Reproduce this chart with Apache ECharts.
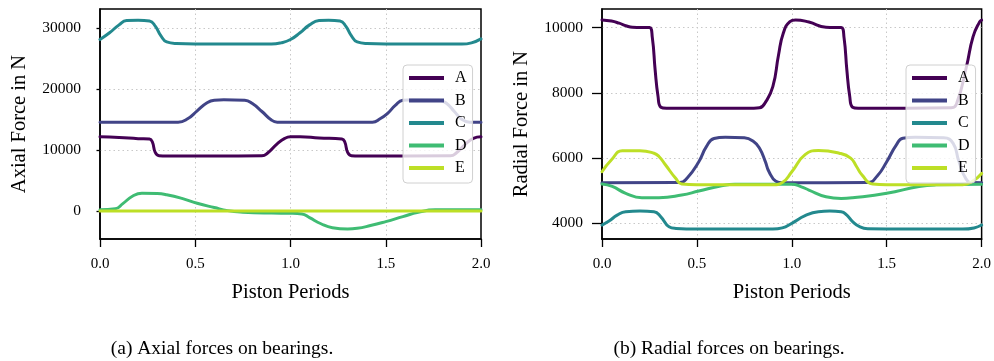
<!DOCTYPE html>
<html><head><meta charset="utf-8">
<script src="https://cdn.jsdelivr.net/npm/echarts@6/dist/echarts.min.js"></script>
<style>html,body{margin:0;padding:0;background:#fff}#c{width:994px;height:361px}</style>
</head><body><div id="c"></div>
<script>
const seriesNames = ['A', 'B', 'C', 'D', 'E'];
const xTicks = [0, 0.5, 1, 1.5, 2];
const axialTicks = [0, 10000, 20000, 30000];
const radialTicks = [4000, 6000, 8000, 10000];
const captions = ['(a) Axial forces on bearings.', '(b) Radial forces on bearings.'];

// Axial forces [piston period, N]
const axialA = [[0,12160],[0.1,12050],[0.2,11850],[0.26,11780],[0.275,11300],[0.29,9600],[0.31,9050],[0.35,9000],[0.6,9000],[0.85,9050],[0.88,9500],[0.93,11000],[0.97,11900],[1.0,12150],[1.05,12150],[1.15,11950],[1.27,11780],[1.285,11300],[1.30,9600],[1.32,9050],[1.36,9000],[1.84,9050],[1.87,9500],[1.92,11000],[1.96,11900],[2.0,12150]];
const axialB = [[0,14520],[0.41,14550],[0.46,15100],[0.51,16400],[0.56,17700],[0.6,18150],[0.65,18220],[0.76,18150],[0.8,17600],[0.85,16300],[0.9,14900],[0.93,14550],[1.0,14520],[1.43,14550],[1.47,15100],[1.51,16000],[1.55,17300],[1.59,18150],[1.64,18220],[1.78,18150],[1.82,17600],[1.86,16300],[1.9,15000],[1.94,14550],[2.0,14520]];
const axialC = [[0,28100],[0.05,29200],[0.1,30500],[0.14,31200],[0.2,31260],[0.26,31150],[0.29,30300],[0.32,28700],[0.35,27700],[0.4,27450],[0.6,27350],[0.9,27350],[0.95,27550],[1.0,28100],[1.05,29200],[1.1,30500],[1.15,31200],[1.2,31260],[1.26,31150],[1.29,30300],[1.32,28700],[1.35,27700],[1.4,27450],[1.6,27350],[1.9,27350],[1.95,27550],[2.0,28200]];
const axialD = [[0,200],[0.08,350],[0.12,1200],[0.17,2400],[0.22,2900],[0.3,2850],[0.35,2650],[0.43,2050],[0.51,1250],[0.6,550],[0.67,50],[0.75,-200],[0.9,-350],[1.0,-380],[1.06,-500],[1.1,-1100],[1.16,-2100],[1.22,-2750],[1.3,-2950],[1.35,-2850],[1.42,-2400],[1.5,-1750],[1.59,-930],[1.67,-220],[1.76,180],[2.0,200]];
const axialE = [[0,0],[0.5,0],[1.0,0],[1.5,0],[2.0,0]];

// Radial forces [piston period, N]
const radialA = [[0,10236],[0.05,10200],[0.09,10135],[0.13,10050],[0.16,10012],[0.25,10000],[0.265,9700],[0.28,8700],[0.295,7900],[0.31,7560],[0.34,7528],[0.8,7528],[0.83,7540],[0.86,7700],[0.9,8190],[0.93,9162],[0.955,9828],[0.99,10184],[1.02,10236],[1.09,10170],[1.18,10012],[1.26,10000],[1.275,9700],[1.29,8700],[1.305,7900],[1.32,7560],[1.35,7528],[1.84,7540],[1.87,7700],[1.92,8800],[1.955,9724],[1.99,10184],[2.0,10230]];
const radialB = [[0,5245],[0.41,5250],[0.45,5400],[0.51,5890],[0.55,6350],[0.59,6600],[0.65,6640],[0.75,6620],[0.8,6500],[0.83,6300],[0.86,5900],[0.88,5580],[0.916,5290],[0.95,5245],[1.4,5250],[1.45,5450],[1.5,5890],[1.55,6400],[1.585,6610],[1.65,6640],[1.8,6620],[1.85,6450],[1.88,5900],[1.917,5370],[1.95,5250],[2.0,5245]];
const radialC = [[0,3948],[0.037,4070],[0.08,4250],[0.125,4356],[0.2,4375],[0.274,4356],[0.31,4200],[0.353,3896],[0.39,3845],[0.5,3825],[0.9,3825],[0.95,3860],[1.0,4000],[1.07,4235],[1.14,4356],[1.2,4375],[1.26,4356],[1.29,4250],[1.32,4050],[1.357,3896],[1.4,3835],[1.6,3825],[1.9,3825],[1.96,3860],[2.0,3948]];
const radialD = [[0,5205],[0.054,5130],[0.125,4920],[0.21,4785],[0.3,4785],[0.42,4866],[0.51,4990],[0.63,5153],[0.7,5200],[1.0,5200],[1.05,5120],[1.09,5021],[1.18,4817],[1.26,4765],[1.32,4785],[1.5,4920],[1.67,5130],[1.76,5180],[2.0,5200]];
const radialE = [[0,5583],[0.05,5950],[0.107,6227],[0.2,6227],[0.274,6150],[0.3,6050],[0.335,5788],[0.388,5380],[0.42,5205],[0.5,5180],[0.9,5180],[0.95,5250],[1.0,5583],[1.07,6105],[1.14,6230],[1.25,6150],[1.31,6000],[1.34,5750],[1.37,5480],[1.426,5205],[1.5,5180],[1.9,5180],[1.95,5280],[2.0,5530]];

const axialData = [axialA, axialB, axialC, axialD, axialE];
const radialData = [radialA, radialB, radialC, radialD, radialE];
const colors = ['#440154', '#414487', '#23898e', '#3fbc73', '#bddf26'];

const FONT = '"Liberation Serif", "DejaVu Serif", serif';
const chart = echarts.init(document.getElementById('c'), null, {renderer: 'canvas'});

function xAxis(gi) {
  return {
    type: 'value', gridIndex: gi, min: 0, max: 2, interval: 0.5,
    name: 'Piston Periods', nameLocation: 'middle', nameGap: 43,
    nameTextStyle: {fontFamily: FONT, fontSize: 20.5, color: '#000'},
    axisLine: {show: true, onZero: false, lineStyle: {color: '#000', width: 1.5}},
    axisTick: {show: true, length: 8, lineStyle: {color: '#000', width: 1.3}},
    axisLabel: {margin: 18, fontFamily: FONT, fontSize: 15, color: '#000', formatter: v => v.toFixed(1)},
    splitLine: {show: true, showMinLine: false, showMaxLine: false, lineStyle: {color: '#c8c8c8', type: [1.5, 3], width: 1}}
  };
}
function yAxis(gi, name, min, max, ticks, tickLen) {
  return {
    type: 'value', gridIndex: gi, min: min, max: max,
    name: name, nameLocation: 'middle', nameGap: 70,
    nameTextStyle: {fontFamily: FONT, fontSize: 20.5, color: '#000'},
    axisLine: {show: true, onZero: false, lineStyle: {color: '#000', width: 1.5}},
    axisTick: {show: true, length: tickLen, customValues: ticks, lineStyle: {color: '#000', width: 1.3}},
    axisLabel: {margin: 19, fontFamily: FONT, fontSize: 15.5, color: '#000', customValues: ticks, formatter: v => String(v)},
    splitLine: {show: true, lineStyle: {color: '#c8c8c8', type: [1.5, 3], width: 1}}
  };
}

const series = [];
seriesNames.forEach((n, i) => {
  series.push({name: n, type: 'line', xAxisIndex: 0, yAxisIndex: 0, data: axialData[i],
    showSymbol: false, smooth: 0.5, color: colors[i],
    lineStyle: {width: 3, color: colors[i], join: 'round', cap: 'round'}, z: 2 + i});
});
seriesNames.forEach((n, i) => {
  series.push({name: n, type: 'line', xAxisIndex: 1, yAxisIndex: 1, data: radialData[i],
    showSymbol: false, smooth: 0.5, color: colors[i],
    lineStyle: {width: 3, color: colors[i], join: 'round', cap: 'round'}, z: 2 + i});
});

function legend(left) {
  return {
    data: seriesNames, orient: 'vertical', left: left, top: 65,
    icon: 'rect', itemWidth: 35, itemHeight: 4, itemGap: 6.5,
    padding: [5, 6, 7, 6],
    backgroundColor: 'rgba(255,255,255,0.8)', borderColor: '#d0d0d0', borderWidth: 1, borderRadius: 4,
    textStyle: {fontFamily: FONT, fontSize: 16, color: '#000', lineHeight: 16, padding: [0, 0, 0, 6]},
    selectedMode: false, z: 20
  };
}

chart.setOption({
  animation: false,
  backgroundColor: '#fff',
  grid: [
    {left: 100, top: 9, width: 381, height: 230, show: true, borderColor: '#000', borderWidth: 1.5, backgroundColor: 'transparent'},
    {left: 602, top: 9, width: 380, height: 230, show: true, borderColor: '#000', borderWidth: 1.5, backgroundColor: 'transparent'}
  ],
  xAxis: [xAxis(0), xAxis(1)],
  yAxis: [
    yAxis(0, 'Axial Force in N', -4600, 33100, axialTicks, 3.5),
    yAxis(1, 'Radial Force in N', 3520, 10570, radialTicks, 10)
  ],
  legend: [legend(403), legend(906)],
  series: series,
  graphic: [
    {type: 'text', x: 222, y: 349, style: {text: captions[0], font: '19.5px ' + FONT, fill: '#000', textAlign: 'center', textVerticalAlign: 'middle'}},
    {type: 'text', x: 729, y: 349, style: {text: captions[1], font: '19.5px ' + FONT, fill: '#000', textAlign: 'center', textVerticalAlign: 'middle'}}
  ]
});
</script></body></html>
